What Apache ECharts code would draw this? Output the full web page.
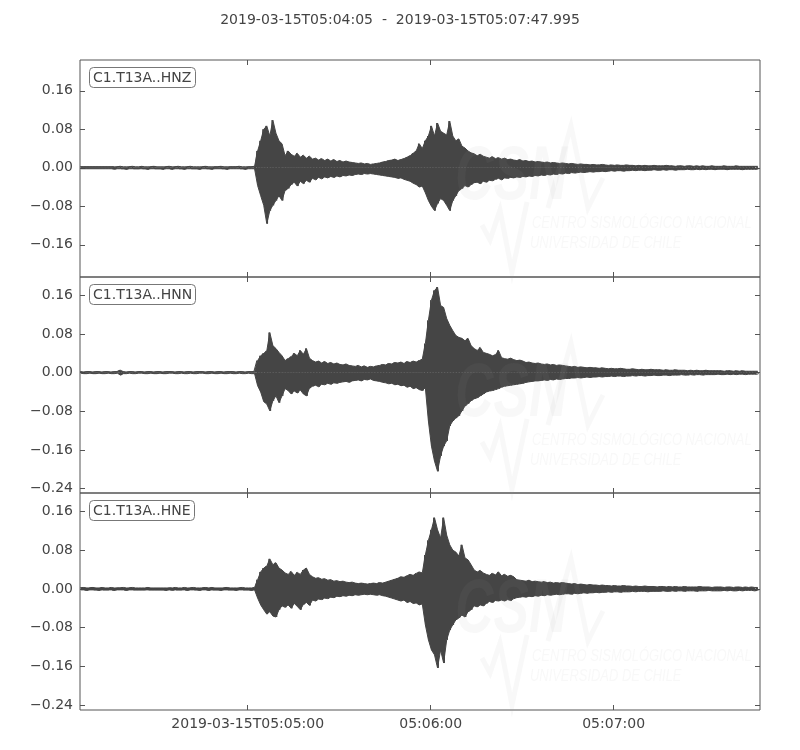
<!DOCTYPE html>
<html><head><meta charset="utf-8">
<script src="https://cdn.jsdelivr.net/npm/echarts@6/dist/echarts.min.js"></script>
<style>html,body{margin:0;padding:0;background:#fff}#chart{width:800px;height:750px}</style>
</head><body><div id="chart"></div>
<script>
// time axis: seconds after 2019-03-15T05:04:00
const startSec = 5;
const endSec = 227.995;
const titleText = '2019-03-15T05:04:05  -  2019-03-15T05:07:47.995';
const xTickValues = [60, 120, 180];
const xTickLabels = ['2019-03-15T05:05:00', '05:06:00', '05:07:00'];
const channels = ['C1.T13A..HNZ', 'C1.T13A..HNN', 'C1.T13A..HNE'];
const yTicksHNZ = [-0.16, -0.08, 0, 0.08, 0.16];
const yTicksHNN = [-0.24, -0.16, -0.08, 0, 0.08, 0.16];
const yTicksHNE = [-0.24, -0.16, -0.08, 0, 0.08, 0.16];
const yRanges = [[-0.227, 0.224], [-0.249, 0.198], [-0.25, 0.198]];

// envelope (max / min per second), 1 value per second from 05:04:05
const hnzUpper = [
0.002,0.002,0.002,0.002,0.002,0.002,0.002,0.002,0.002,0.002,
0.002,0.002,0.002,0.003,0.002,0.002,0.002,0.003,0.002,0.002,
0.003,0.002,0.002,0.002,0.003,0.002,0.002,0.002,0.002,0.003,
0.002,0.002,0.003,0.002,0.002,0.002,0.003,0.002,0.002,0.002,
0.002,0.003,0.002,0.002,0.002,0.002,0.003,0.002,0.002,0.002,
0.002,0.002,0.003,0.002,0.002,0.002,0.002,0.003,
0.035,0.056,0.080,0.087,0.066,0.099,0.072,0.056,0.050,0.025,0.035,0.028,
0.024,0.030,0.022,0.026,0.020,0.024,0.018,0.020,0.016,0.019,
0.015,0.018,0.014,0.017,0.013,0.015,0.012,0.014,0.012,0.011,
0.010,0.009,0.010,0.008,0.009,0.007,0.008,0.009,0.010,0.012,
0.013,0.015,0.016,0.018,0.015,0.017,0.019,0.022,0.025,0.030,
0.035,0.050,0.040,0.056,0.066,0.087,0.066,0.093,0.076,0.072,
0.068,0.097,0.066,0.056,0.060,0.045,0.041,0.035,0.031,0.029,
0.025,0.028,0.024,0.022,0.020,0.023,0.019,0.021,0.018,0.020,
0.017,0.018,0.016,0.015,0.017,0.014,0.015,0.013,0.014,0.012,
0.013,0.012,0.011,0.012,0.010,0.011,0.010,0.009,0.010,0.009,
0.008,0.009,0.008,0.007,0.008,0.007,0.007,0.006,0.007,0.006,
0.006,0.007,0.006,0.005,0.006,0.005,0.006,0.005,0.005,0.006,
0.005,0.005,0.004,0.005,0.004,0.005,0.004,0.004,0.005,0.004,
0.004,0.004,0.005,0.004,0.004,0.003,0.004,0.004,0.003,0.004,
0.004,0.003,0.004,0.003,0.004,0.003,0.003,0.004,0.003,0.003,
0.003,0.004,0.003,0.003,0.003,0.004,0.003,0.003,0.003,0.003,
0.003,0.003,0.003];
const hnzLower = [
-0.002,-0.002,-0.002,-0.002,-0.002,-0.002,-0.002,-0.002,-0.002,-0.002,
-0.002,-0.003,-0.002,-0.002,-0.002,-0.003,-0.002,-0.002,-0.002,-0.002,
-0.002,-0.002,-0.003,-0.002,-0.002,-0.002,-0.002,-0.003,-0.002,-0.002,
-0.003,-0.002,-0.002,-0.002,-0.003,-0.002,-0.002,-0.002,-0.002,-0.003,
-0.002,-0.002,-0.002,-0.003,-0.002,-0.002,-0.002,-0.002,-0.003,-0.002,
-0.002,-0.002,-0.002,-0.002,-0.003,-0.002,-0.002,-0.002,
-0.037,-0.058,-0.078,-0.116,-0.089,-0.078,-0.068,-0.058,-0.068,-0.047,-0.043,-0.035,
-0.030,-0.038,-0.028,-0.033,-0.026,-0.030,-0.022,-0.025,-0.020,-0.023,
-0.019,-0.021,-0.018,-0.020,-0.017,-0.019,-0.016,-0.017,-0.015,-0.016,
-0.014,-0.013,-0.014,-0.012,-0.013,-0.012,-0.013,-0.014,-0.015,-0.016,
-0.017,-0.018,-0.019,-0.020,-0.022,-0.021,-0.024,-0.026,-0.028,-0.032,
-0.035,-0.040,-0.038,-0.052,-0.068,-0.080,-0.089,-0.074,-0.064,-0.068,
-0.078,-0.089,-0.068,-0.058,-0.047,-0.043,-0.037,-0.040,-0.035,-0.031,
-0.030,-0.033,-0.028,-0.030,-0.026,-0.027,-0.024,-0.022,-0.025,-0.021,
-0.022,-0.020,-0.021,-0.019,-0.020,-0.018,-0.019,-0.017,-0.018,-0.016,
-0.017,-0.015,-0.016,-0.014,-0.015,-0.013,-0.014,-0.012,-0.013,-0.011,
-0.012,-0.010,-0.011,-0.010,-0.009,-0.010,-0.009,-0.008,-0.009,-0.008,
-0.008,-0.007,-0.008,-0.007,-0.006,-0.007,-0.006,-0.006,-0.007,-0.006,
-0.006,-0.005,-0.006,-0.005,-0.005,-0.006,-0.005,-0.005,-0.004,-0.005,
-0.005,-0.004,-0.005,-0.004,-0.004,-0.005,-0.004,-0.004,-0.004,-0.003,
-0.004,-0.004,-0.003,-0.004,-0.003,-0.004,-0.003,-0.003,-0.004,-0.003,
-0.003,-0.003,-0.004,-0.003,-0.003,-0.003,-0.003,-0.004,-0.003,-0.003,
-0.003,-0.003,-0.003];
const hnnUpper = [
0.002,0.001,0.002,0.002,0.001,0.002,0.002,0.001,0.002,0.002,
0.001,0.002,0.002,0.005,0.002,0.001,0.002,0.002,0.001,0.002,
0.002,0.001,0.002,0.002,0.001,0.002,0.002,0.001,0.002,0.002,
0.002,0.001,0.002,0.002,0.001,0.002,0.002,0.001,0.002,0.002,
0.002,0.001,0.002,0.002,0.001,0.002,0.002,0.001,0.002,0.002,
0.002,0.001,0.002,0.002,0.001,0.002,0.002,0.002,
0.025,0.035,0.040,0.045,0.083,0.056,0.050,0.042,0.035,0.025,0.029,0.033,
0.040,0.035,0.046,0.038,0.050,0.030,0.025,0.022,0.024,0.020,
0.023,0.019,0.021,0.018,0.020,0.017,0.016,0.018,0.015,0.014,
0.013,0.015,0.012,0.014,0.011,0.013,0.012,0.014,0.015,0.017,
0.016,0.019,0.018,0.021,0.020,0.022,0.019,0.023,0.021,0.024,
0.022,0.025,0.028,0.060,0.108,0.150,0.170,0.177,0.139,0.135,
0.112,0.098,0.087,0.077,0.073,0.071,0.066,0.071,0.056,0.050,
0.046,0.052,0.042,0.040,0.038,0.035,0.037,0.046,0.031,0.029,
0.028,0.030,0.027,0.025,0.026,0.024,0.021,0.022,0.020,0.019,
0.020,0.018,0.017,0.018,0.016,0.017,0.015,0.016,0.015,0.014,
0.013,0.012,0.013,0.011,0.012,0.011,0.010,0.011,0.010,0.010,
0.009,0.010,0.009,0.008,0.009,0.008,0.008,0.009,0.008,0.007,
0.007,0.008,0.007,0.006,0.007,0.006,0.006,0.007,0.006,0.006,
0.006,0.005,0.006,0.005,0.005,0.006,0.005,0.005,0.005,0.004,
0.005,0.004,0.005,0.004,0.004,0.005,0.004,0.004,0.004,0.004,
0.004,0.003,0.004,0.004,0.003,0.004,0.003,0.004,0.003,0.003,
0.003,0.003,0.003];
const hnnLower = [
-0.001,-0.002,-0.002,-0.001,-0.002,-0.002,-0.001,-0.002,-0.002,-0.001,
-0.002,-0.002,-0.001,-0.005,-0.002,-0.002,-0.001,-0.002,-0.002,-0.001,
-0.001,-0.002,-0.002,-0.001,-0.002,-0.002,-0.001,-0.002,-0.002,-0.001,
-0.001,-0.002,-0.002,-0.001,-0.002,-0.002,-0.001,-0.002,-0.002,-0.001,
-0.001,-0.002,-0.002,-0.001,-0.002,-0.002,-0.001,-0.002,-0.002,-0.001,
-0.002,-0.002,-0.001,-0.002,-0.002,-0.001,-0.002,-0.002,
-0.027,-0.040,-0.060,-0.065,-0.079,-0.058,-0.048,-0.062,-0.048,-0.033,-0.037,-0.044,
-0.038,-0.042,-0.036,-0.044,-0.048,-0.032,-0.028,-0.026,-0.029,-0.024,
-0.025,-0.022,-0.024,-0.021,-0.022,-0.020,-0.019,-0.018,-0.020,-0.017,
-0.016,-0.015,-0.017,-0.014,-0.015,-0.013,-0.016,-0.017,-0.018,-0.020,
-0.021,-0.023,-0.022,-0.025,-0.024,-0.027,-0.026,-0.030,-0.028,-0.033,
-0.031,-0.035,-0.037,-0.031,-0.100,-0.152,-0.183,-0.204,-0.172,-0.152,
-0.141,-0.110,-0.100,-0.094,-0.089,-0.079,-0.069,-0.064,-0.058,-0.054,
-0.052,-0.048,-0.044,-0.040,-0.038,-0.037,-0.035,-0.033,-0.030,-0.028,
-0.027,-0.026,-0.025,-0.024,-0.023,-0.022,-0.020,-0.019,-0.018,-0.017,
-0.017,-0.016,-0.015,-0.016,-0.014,-0.015,-0.013,-0.014,-0.013,-0.012,
-0.012,-0.011,-0.011,-0.010,-0.011,-0.010,-0.009,-0.010,-0.009,-0.009,
-0.008,-0.009,-0.008,-0.008,-0.007,-0.008,-0.007,-0.007,-0.008,-0.007,
-0.007,-0.006,-0.007,-0.006,-0.006,-0.007,-0.006,-0.006,-0.005,-0.006,
-0.006,-0.005,-0.005,-0.006,-0.005,-0.005,-0.005,-0.004,-0.005,-0.005,
-0.004,-0.005,-0.004,-0.004,-0.005,-0.004,-0.004,-0.004,-0.004,-0.003,
-0.004,-0.004,-0.003,-0.004,-0.003,-0.004,-0.003,-0.003,-0.004,-0.003,
-0.003,-0.003,-0.003];
const hneUpper = [
0.002,0.003,0.002,0.002,0.003,0.002,0.002,0.003,0.002,0.002,
0.003,0.002,0.002,0.002,0.003,0.002,0.002,0.003,0.002,0.002,
0.002,0.002,0.003,0.002,0.002,0.002,0.002,0.002,0.002,0.002,
0.002,0.003,0.002,0.002,0.003,0.002,0.002,0.003,0.002,0.002,
0.002,0.003,0.002,0.003,0.002,0.002,0.002,0.002,0.003,0.002,
0.002,0.002,0.002,0.003,0.002,0.002,0.002,0.003,
0.019,0.035,0.043,0.047,0.062,0.050,0.054,0.043,0.039,0.033,0.030,0.036,
0.028,0.034,0.030,0.039,0.043,0.030,0.025,0.022,0.023,0.020,
0.021,0.018,0.019,0.016,0.017,0.015,0.016,0.014,0.013,0.014,
0.012,0.011,0.012,0.011,0.010,0.011,0.012,0.011,0.013,0.012,
0.014,0.016,0.018,0.020,0.022,0.025,0.024,0.027,0.030,0.028,
0.032,0.035,0.033,0.070,0.100,0.122,0.147,0.122,0.105,0.147,
0.111,0.091,0.080,0.076,0.068,0.091,0.064,0.060,0.050,0.039,
0.035,0.038,0.033,0.030,0.028,0.032,0.029,0.035,0.027,0.030,
0.026,0.028,0.025,0.019,0.018,0.017,0.016,0.018,0.015,0.016,
0.015,0.014,0.015,0.013,0.014,0.012,0.013,0.012,0.013,0.012,
0.011,0.010,0.011,0.009,0.010,0.009,0.008,0.009,0.008,0.008,
0.007,0.008,0.007,0.007,0.006,0.007,0.006,0.006,0.007,0.006,
0.006,0.005,0.006,0.005,0.005,0.006,0.005,0.005,0.005,0.004,
0.005,0.005,0.004,0.005,0.004,0.005,0.004,0.004,0.005,0.004,
0.004,0.004,0.004,0.005,0.004,0.004,0.004,0.003,0.004,0.004,
0.004,0.003,0.004,0.004,0.003,0.004,0.004,0.003,0.004,0.003,
0.004,0.003,0.003];
const hneLower = [
-0.002,-0.002,-0.003,-0.002,-0.002,-0.002,-0.003,-0.002,-0.002,-0.002,
-0.002,-0.003,-0.002,-0.002,-0.002,-0.003,-0.002,-0.002,-0.002,-0.002,
-0.002,-0.002,-0.002,-0.002,-0.002,-0.002,-0.002,-0.002,-0.003,-0.002,
-0.003,-0.002,-0.002,-0.002,-0.002,-0.003,-0.002,-0.002,-0.002,-0.003,
-0.002,-0.002,-0.003,-0.002,-0.002,-0.002,-0.003,-0.002,-0.002,-0.002,
-0.002,-0.003,-0.002,-0.002,-0.002,-0.002,-0.003,-0.002,
-0.019,-0.033,-0.043,-0.052,-0.047,-0.056,-0.058,-0.043,-0.035,-0.038,-0.033,-0.040,
-0.030,-0.036,-0.043,-0.032,-0.028,-0.034,-0.023,-0.025,-0.021,-0.022,
-0.019,-0.020,-0.017,-0.018,-0.015,-0.016,-0.014,-0.015,-0.013,-0.014,
-0.012,-0.013,-0.012,-0.011,-0.012,-0.011,-0.012,-0.013,-0.012,-0.014,
-0.015,-0.017,-0.019,-0.021,-0.023,-0.025,-0.023,-0.028,-0.026,-0.030,
-0.029,-0.033,-0.031,-0.074,-0.105,-0.126,-0.136,-0.163,-0.126,-0.153,
-0.105,-0.085,-0.074,-0.064,-0.060,-0.054,-0.058,-0.047,-0.043,-0.035,
-0.037,-0.033,-0.035,-0.030,-0.026,-0.028,-0.024,-0.025,-0.023,-0.025,
-0.022,-0.024,-0.020,-0.018,-0.017,-0.016,-0.017,-0.015,-0.016,-0.014,
-0.015,-0.013,-0.014,-0.012,-0.013,-0.012,-0.011,-0.012,-0.011,-0.010,
-0.010,-0.011,-0.009,-0.010,-0.009,-0.008,-0.009,-0.008,-0.008,-0.007,
-0.008,-0.007,-0.007,-0.006,-0.007,-0.006,-0.006,-0.007,-0.006,-0.006,
-0.006,-0.005,-0.006,-0.005,-0.005,-0.005,-0.006,-0.005,-0.005,-0.005,
-0.005,-0.004,-0.005,-0.005,-0.004,-0.005,-0.004,-0.004,-0.005,-0.004,
-0.004,-0.004,-0.005,-0.004,-0.004,-0.004,-0.003,-0.004,-0.004,-0.004,
-0.004,-0.003,-0.004,-0.003,-0.004,-0.004,-0.003,-0.004,-0.003,-0.003,
-0.003,-0.004,-0.003];

const FONT = '"DejaVu Sans", sans-serif';
const TXT = '#444';
const LINE = '#555';
const WAVE = '#454545';

function wave(up, lo) {
  const d = [];
  for (let i = 0; i < up.length; i++) {
    d.push([startSec + i, up[i]]);
    d.push([startSec + i + 0.5, lo[i]]);
  }
  return d;
}
function env(vals) {
  return vals.map((v, i) => [startSec + i + 0.25, v]);
}
const uppers = [hnzUpper, hnnUpper, hneUpper];
const lowers = [hnzLower, hnnLower, hneLower];
const yTicks = [yTicksHNZ, yTicksHNN, yTicksHNE];

const panels = [{top: 60, height: 217}, {top: 277, height: 216}, {top: 493, height: 217}];

function yFmt(v) {
  const s = Math.abs(v).toFixed(2);
  return (v < -1e-9 ? '\u2212' : '') + s;
}

const grid = [], xAxis = [], yAxis = [], series = [], titles = [], graphic = [];
titles.push({text: titleText, left: 'center', top: 13, padding: 0,
  textStyle: {fontFamily: FONT, fontSize: 14, fontWeight: 'normal', color: TXT}});

const wmColor = 'rgba(150,150,150,0.07)';
const wmFont = 'italic 17px "Liberation Sans", sans-serif';

panels.forEach((p, k) => {
  grid.push({left: 80, right: 40, top: p.top, height: p.height, show: true,
    borderColor: LINE, borderWidth: 1, backgroundColor: 'transparent'});
  const tickStyle = {show: true, inside: true, length: 5, lineStyle: {color: LINE, width: 1}};
  const noLine = {show: false, onZero: false};
  xAxis.push({type: 'value', gridIndex: k, min: startSec, max: endSec, position: 'bottom',
    axisLine: noLine,
    axisTick: Object.assign({customValues: xTickValues}, tickStyle),
    axisLabel: {show: k === 2, customValues: xTickValues, margin: 7,
      fontFamily: FONT, fontSize: 14, color: TXT,
      formatter: v => xTickLabels[xTickValues.indexOf(Math.round(v))] || ''},
    splitLine: {show: false}});
  xAxis.push({type: 'value', gridIndex: k, min: startSec, max: endSec, position: 'top',
    axisLine: noLine,
    axisTick: Object.assign({customValues: xTickValues}, tickStyle),
    axisLabel: {show: false}, splitLine: {show: false}});
  yAxis.push({type: 'value', gridIndex: k, min: yRanges[k][0], max: yRanges[k][1], position: 'left',
    axisLine: noLine,
    axisTick: Object.assign({customValues: yTicks[k]}, tickStyle),
    axisLabel: {customValues: yTicks[k], margin: 7, fontFamily: FONT, fontSize: 14, color: TXT, formatter: yFmt},
    splitLine: {show: false}});
  yAxis.push({type: 'value', gridIndex: k, min: yRanges[k][0], max: yRanges[k][1], position: 'right',
    axisLine: noLine,
    axisTick: Object.assign({customValues: yTicks[k]}, tickStyle),
    axisLabel: {show: false}, splitLine: {show: false}});
  const common = {type: 'line', xAxisIndex: 2 * k, yAxisIndex: 2 * k, showSymbol: false, symbol: 'none',
    sampling: null, smooth: false, clip: true, silent: true, z: 2};
  series.push(Object.assign({}, common, {data: env(uppers[k]),
    lineStyle: {color: WAVE, width: 1}, areaStyle: {color: WAVE, opacity: 1, origin: 0}}));
  series.push(Object.assign({}, common, {data: env(lowers[k]),
    lineStyle: {color: WAVE, width: 1}, areaStyle: {color: WAVE, opacity: 1, origin: 0}}));
  series.push(Object.assign({}, common, {data: wave(uppers[k], lowers[k]),
    lineStyle: {color: WAVE, width: 1}}));
  titles.push({text: channels[k], left: 89, top: p.top + 7, padding: [4, 4, 3, 4],
    borderColor: '#777', borderWidth: 1, borderRadius: 4, backgroundColor: '#fff',
    textStyle: {fontFamily: FONT, fontSize: 14, fontWeight: 'normal', color: TXT}});
  const T = p.top;
  graphic.push({type: 'text', left: 455, top: T + 80, z: 100, silent: true, scaleX: 0.7,
    style: {text: 'CSN', font: 'italic bold 76px "Liberation Sans", sans-serif', fill: wmColor}});
  graphic.push({type: 'polyline', z: 100, silent: true,
    shape: {points: [[548, T + 148], [571, T + 66], [588, T + 148], [603, T + 118]]},
    style: {stroke: wmColor, lineWidth: 5, fill: null}});
  graphic.push({type: 'polyline', z: 100, silent: true,
    shape: {points: [[482, T + 165], [490, T + 180], [500, T + 150], [512, T + 212], [527, T + 142]]},
    style: {stroke: wmColor, lineWidth: 5, fill: null}});
  graphic.push({type: 'text', x: 532, y: T + 155, z: 100, silent: true, scaleX: 0.76,
    style: {text: 'CENTRO SISMOLÓGICO NACIONAL', font: wmFont, fill: wmColor}});
  graphic.push({type: 'text', x: 530, y: T + 175, z: 100, silent: true, scaleX: 0.76,
    style: {text: 'UNIVERSIDAD DE CHILE', font: wmFont, fill: wmColor}});
});

const chart = echarts.init(document.getElementById('chart'), null, {renderer: 'canvas'});
chart.setOption({
  animation: false,
  backgroundColor: '#fff',
  title: titles,
  grid: grid,
  xAxis: xAxis,
  yAxis: yAxis,
  series: series,
  graphic: graphic
});
</script>
</body></html>
